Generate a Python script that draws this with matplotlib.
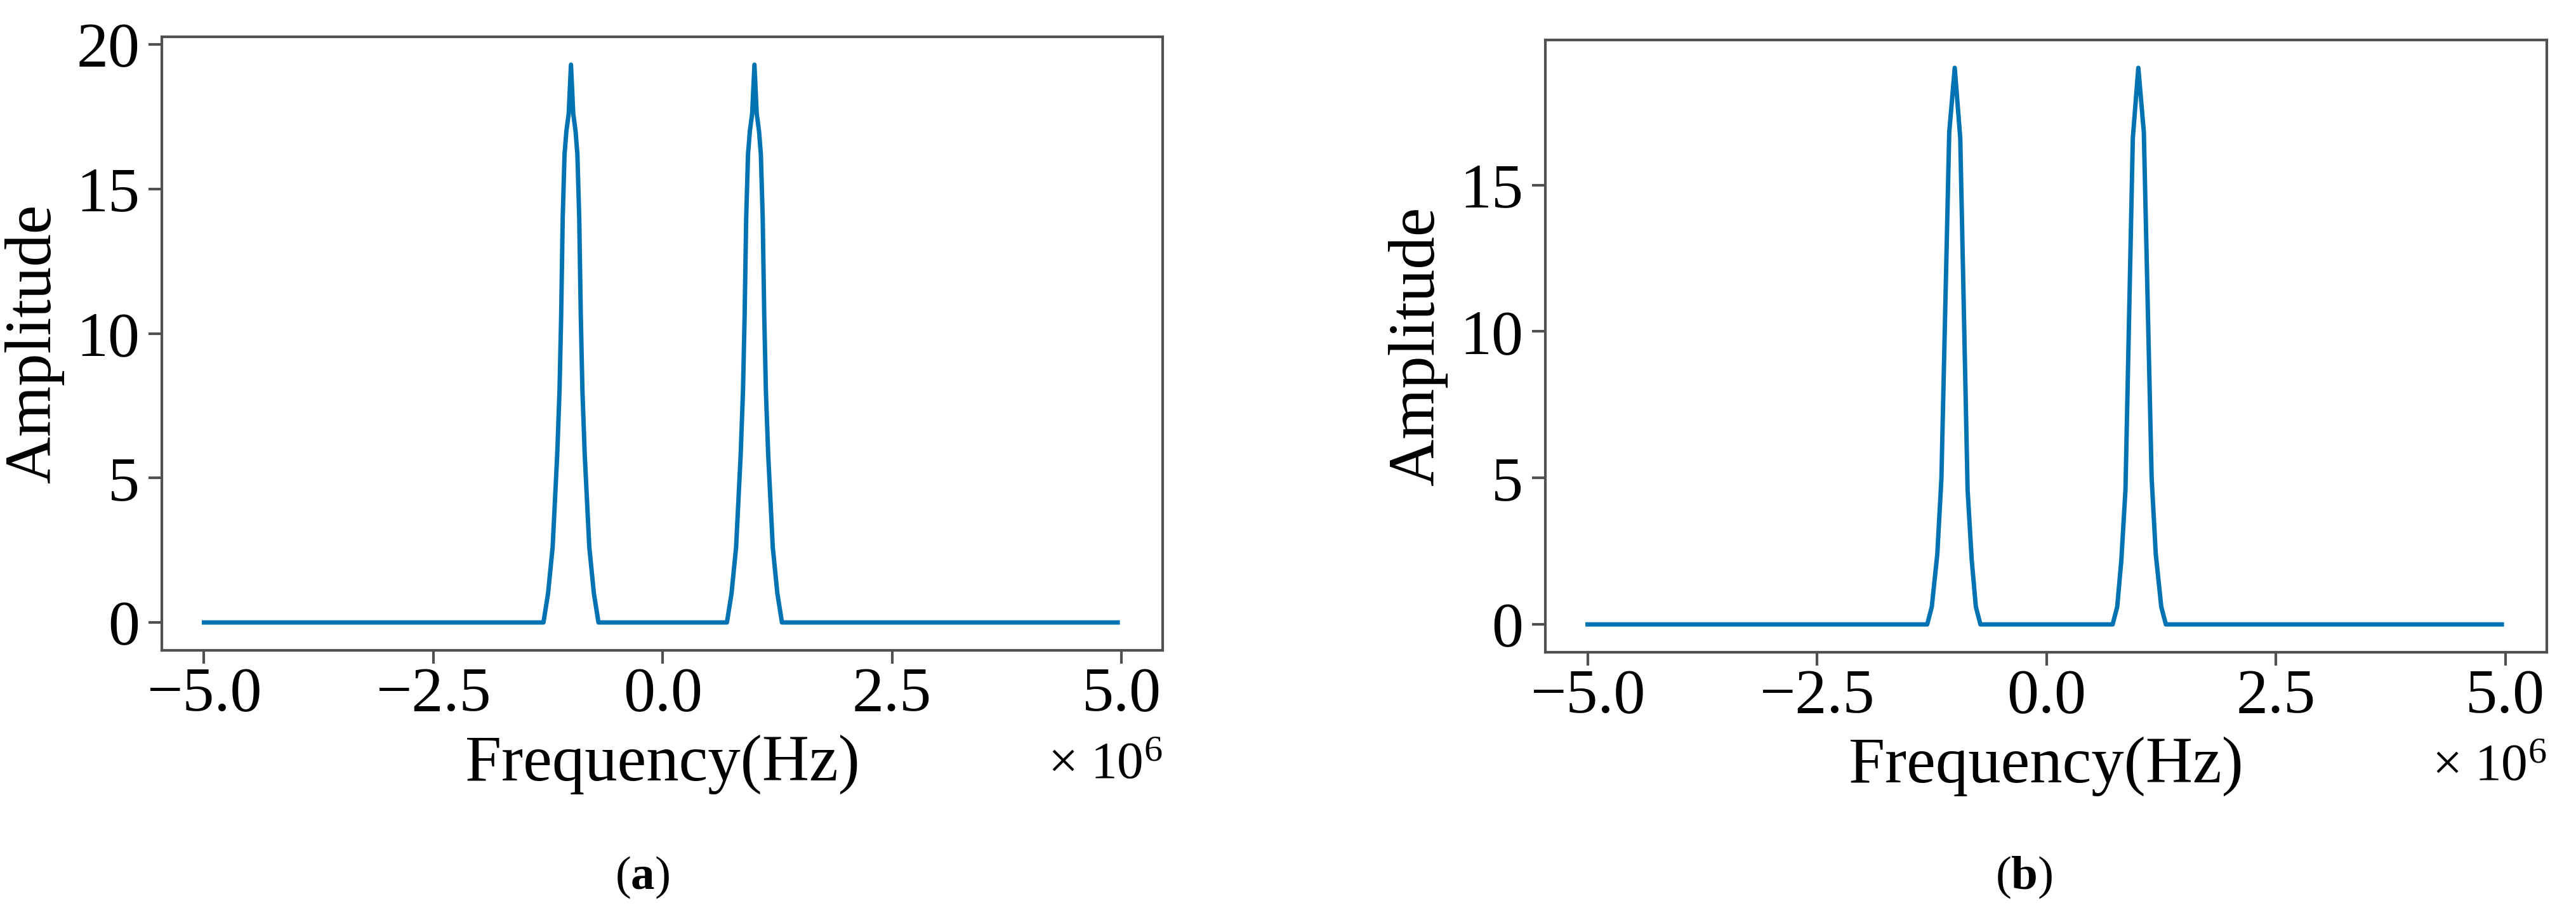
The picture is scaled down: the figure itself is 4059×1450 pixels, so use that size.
import matplotlib
matplotlib.use("Agg")
import matplotlib.pyplot as plt
from matplotlib.ticker import FuncFormatter, MultipleLocator

# ---- data (frequency in MHz, amplitude) ----
freq_a = [-5.0, -1.30, -1.25, -1.20, -1.175, -1.15, -1.125, -1.107, -1.09, -1.07, -1.05, -1.025,
          -1.0, -0.975, -0.95, -0.93, -0.91, -0.893, -0.875, -0.85, -0.825, -0.80, -0.75, -0.70,
          0.70, 0.75, 0.80, 0.825, 0.85, 0.875, 0.893, 0.91, 0.93, 0.95, 0.975,
          1.0, 1.025, 1.05, 1.07, 1.09, 1.107, 1.125, 1.15, 1.175, 1.20, 1.25, 1.30, 4.96]
amp_a = [0.0, 0.0, 1.0, 2.6, 4.2, 5.8, 8.0, 10.6, 14.0, 16.2, 17.0, 17.6,
         19.3, 17.6, 17.0, 16.2, 14.0, 10.6, 8.0, 5.8, 4.2, 2.6, 1.0, 0.0,
         0.0, 1.0, 2.6, 4.2, 5.8, 8.0, 10.6, 14.0, 16.2, 17.0, 17.6,
         19.3, 17.6, 17.0, 16.2, 14.0, 10.6, 8.0, 5.8, 4.2, 2.6, 1.0, 0.0, 0.0]

freq_b = [-5.0, -1.30, -1.25, -1.19, -1.145, -1.06, -1.0, -0.94, -0.86, -0.815, -0.77, -0.72,
          0.72, 0.77, 0.815, 0.86, 0.94, 1.0, 1.06, 1.145, 1.19, 1.25, 1.30, 4.96]
amp_b = [0.0, 0.0, 0.6, 2.4, 5.0, 16.8, 19.0, 16.6, 4.6, 2.2, 0.6, 0.0,
         0.0, 0.6, 2.2, 4.6, 16.6, 19.0, 16.8, 5.0, 2.4, 0.6, 0.0, 0.0]

x_ticks = [-5.0, -2.5, 0.0, 2.5, 5.0]
captions = ["a", "b"]
xlabel = "Frequency(Hz)"
ylabel = "Amplitude"
x_multiplier = r"$\times\ 10^{6}$"

LINE = "#0173B2"
SPINE = "#505050"
SERIF = ["Liberation Serif", "DejaVu Serif"]

plt.rcParams["font.family"] = SERIF
plt.rcParams["mathtext.fontset"] = "custom"
plt.rcParams["mathtext.rm"] = "Liberation Serif"
plt.rcParams["mathtext.it"] = "Liberation Serif:italic"
plt.rcParams["mathtext.bf"] = "Liberation Serif:bold"

W, H = 4059, 1450
fig = plt.figure(figsize=(W / 100, H / 100), dpi=100)

boxes = [(255, 58, 1832, 1025), (2435, 63, 4013, 1028)]
series = [(freq_a, amp_a), (freq_b, amp_b)]
cap_x = [1012, 3189]

for (x0, y0, x1, y1), (fx, ay), cap, cx in zip(boxes, series, captions, cap_x):
    ax = fig.add_axes([x0 / W, 1 - y1 / H, (x1 - x0) / W, (y1 - y0) / H])
    ax.plot([f * 1e6 for f in fx], ay, color=LINE, lw=5.0)
    ax.set_xlim(-5.46e6, 5.45e6)
    ax.set_xticks([t * 1e6 for t in x_ticks])
    ax.xaxis.set_major_formatter(FuncFormatter(lambda v, p: f"{v / 1e6:.1f}".replace("-", "\u2212")))
    ax.yaxis.set_major_locator(MultipleLocator(5))
    for s in ax.spines.values():
        s.set_color(SPINE)
        s.set_linewidth(3)
    ax.tick_params(axis="both", which="major", length=15, width=3, color=SPINE,
                   labelsize=72)
    ax.tick_params(axis="x", pad=4)
    ax.tick_params(axis="y", pad=10)
    hax = y1 - y0
    ax.set_xlabel(xlabel, fontsize=74, va="baseline")
    ax.xaxis.set_label_coords(0.5, -(1230 - 1025) / hax)
    ax.set_ylabel(ylabel, fontsize=74, labelpad=14)
    ax.text(1.0, -(1226 - 1025) / hax, x_multiplier, transform=ax.transAxes, ha="right",
            va="baseline", fontsize=60)
    fig.text(cx / W, 1 - 1401 / H, "(" + r"$\mathbf{" + cap + r"}$" + ")",
             fontsize=54, ha="center", va="baseline")

fig.savefig("out.png", dpi=100)
